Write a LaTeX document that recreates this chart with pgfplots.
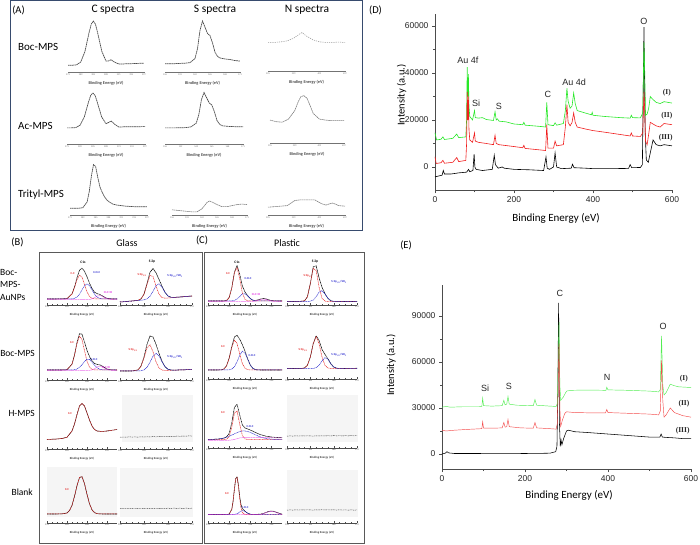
\documentclass[border=0pt]{standalone}
\usepackage{fontspec}
\setmainfont{Carlito}
\newfontfamily\arialf{Liberation Sans}
\newfontfamily\serifb{Liberation Serif}
\usepackage{pgfplots}
\pgfplotsset{compat=1.18}

\definecolor{xg}{RGB}{40,232,40}
\definecolor{xr}{RGB}{240,30,30}
\definecolor{fitred}{RGB}{228,40,40}
\definecolor{fitblue}{RGB}{40,40,205}
\definecolor{fitmag}{RGB}{225,40,225}
\definecolor{boxA}{RGB}{55,75,110}

\newcommand\tl{\bfseries\fontsize{3}{3.5}\selectfont}
\newcommand\ct{\bfseries\fontsize{3.6}{4}\selectfont}

\pgfplotsset{
  apanel/.style={scale only axis, anchor=south west, height=52pt, ymin=0, ymax=1,
    axis y line=none, axis x line*=bottom,
    axis line style={-, black!55, line width=0.5pt},
    tick align=outside, major tick length=1.4pt, minor tick length=0.8pt,
    tick style={black!55, line width=0.3pt},
    /pgf/number format/assume math mode=true,
    xticklabel style={font=\fontsize{2.4}{3}\selectfont, text=black!55, inner sep=0.5pt},
    xlabel={Binding Energy (eV)},
    xlabel style={font=\bfseries\fontsize{4.3}{5}\selectfont, text=black!70,
      at={(axis description cs:0.5,0)}, anchor=center, yshift=-11pt},
    clip=false},
  bpanel/.style={scale only axis, anchor=south west, height=50pt, ymin=0, ymax=1,
    axis y line=none, axis x line*=bottom,
    axis line style={-, black!70, line width=0.5pt},
    tick align=inside, major tick length=2pt, minor tick length=1.1pt,
    minor x tick num=3,
    tick style={black!70, line width=0.3pt},
    /pgf/number format/assume math mode=true,
    xticklabel style={font=\fontsize{2.4}{3}\selectfont, text=black!70, inner sep=0.6pt},
    xlabel={Binding Energy (eV)},
    xlabel style={font=\bfseries\fontsize{3}{3.5}\selectfont, text=black!75,
      at={(axis description cs:0.5,0)}, anchor=center, yshift=-9.5pt},
    clip=false},
  cpan/.style={bpanel, xmin=278, xmax=292, xtick={278,282,286,290}},
  span/.style={bpanel, xmin=158, xmax=170, xtick={158,162,166,170}},
  acurve/.style={no marks, black!70, line width=0.7pt, dash pattern=on 1.6pt off 0.5pt},
  kfit/.style={no marks, black, line width=0.55pt, dash pattern=on 1.1pt off 0.45pt},
  rfit/.style={no marks, fitred, line width=0.5pt, dash pattern=on 1pt off 0.6pt},
  bfit/.style={no marks, fitblue, line width=0.5pt, dash pattern=on 1pt off 0.6pt},
  mfit/.style={no marks, fitmag, line width=0.5pt, dash pattern=on 0.5pt off 0.6pt},
  flat/.style={no marks, black!75, line width=0.45pt, dash pattern=on 1pt off 0.7pt},
  survey/.style={scale only axis, anchor=south west, xmin=0, xmax=600,
    axis lines*=left, axis line style={black!70, line width=0.8pt},
    xtick={0,200,400,600}, minor x tick num=1, minor y tick num=1,
    tick align=outside, major tick length=3pt, minor tick length=1.8pt,
    tick style={black!70, line width=0.6pt},
    scaled y ticks=false,
    /pgf/number format/.cd, assume math mode=true, 1000 sep={}, fixed, /pgfplots/.cd,
    ticklabel style={font=\arialf\fontsize{8.5}{9}\selectfont, text=black!85},
    clip=false},
}

\begin{document}
\begin{tikzpicture}
\useasboundingbox (0pt,0pt) rectangle (700pt,545pt);

% ---------- frames and light backgrounds ----------
\draw[boxA, line width=1pt] (10pt,544pt) rectangle (362pt,314pt);
\draw[black!65, line width=0.9pt] (39pt,293pt) rectangle (202pt,1.5pt);
\draw[black!65, line width=0.9pt] (204pt,293pt) rectangle (364pt,2pt);
\fill[black!4] (122pt,150pt) rectangle (193pt,103pt);
\fill[black!4] (47pt,78pt) rectangle (117pt,28pt);
\fill[black!4] (120pt,77pt) rectangle (193pt,28pt);
\fill[black!4] (287pt,150pt) rectangle (358pt,103pt);
\fill[black!4] (287pt,75pt) rectangle (358pt,28pt);

% ---------- panel titles ----------
\node[font=\fontsize{10.5}{12}\selectfont] at (18.5pt,535pt) {(A)};
\node[font=\fontsize{11.5}{13}\selectfont] at (113pt,535pt) {C spectra};
\node[font=\fontsize{11.5}{13}\selectfont] at (215pt,535pt) {S spectra};
\node[font=\fontsize{11.5}{13}\selectfont] at (307pt,535pt) {N spectra};
\node[font=\fontsize{11}{13}\selectfont, anchor=west, inner sep=0pt] at (18pt,498pt) {Boc-MPS};
\node[font=\fontsize{11}{13}\selectfont, anchor=west, inner sep=0pt] at (18pt,419pt) {Ac-MPS};
\node[font=\fontsize{11}{13}\selectfont, anchor=west, inner sep=0pt] at (18pt,350pt) {Trityl-MPS};

\node[font=\fontsize{10.5}{12}\selectfont] at (17.5pt,303pt) {(B)};
\node[font=\fontsize{10}{12}\selectfont] at (127pt,302pt) {Glass};
\node[font=\fontsize{10.5}{12}\selectfont] at (202pt,305pt) {(C)};
\node[font=\fontsize{10}{12}\selectfont] at (287pt,302pt) {Plastic};
\node[font=\fontsize{10.5}{12}\selectfont] at (375.5pt,535pt) {(D)};
\node[font=\fontsize{10.5}{12}\selectfont] at (406pt,300pt) {(E)};

\node[font=\fontsize{9.5}{11}\selectfont, anchor=west, inner sep=0pt] at (0pt,273pt) {Boc-};
\node[font=\fontsize{9.5}{11}\selectfont, anchor=west, inner sep=0pt] at (0pt,261pt) {MPS-};
\node[font=\fontsize{9.5}{11}\selectfont, anchor=west, inner sep=0pt] at (0pt,248pt) {AuNPs};
\node[font=\fontsize{9.5}{11}\selectfont, anchor=east, inner sep=0pt] at (35pt,192pt) {Boc-MPS};
\node[font=\fontsize{9.5}{11}\selectfont, anchor=east, inner sep=0pt] at (35pt,132pt) {H-MPS};
\node[font=\fontsize{9.5}{11}\selectfont, anchor=east, inner sep=0pt] at (33pt,53pt) {Blank};

\node[font=\ct] at (83pt,283pt) {C1s};
\node[font=\ct] at (152pt,283pt) {S 2p};
\node[font=\ct] at (237pt,283pt) {C1s};
\node[font=\ct] at (315pt,283pt) {S 2p};

% ---------- fit labels ----------
\begin{scope}[every node/.style={font=\tl, inner sep=0pt}]
\node[fitred] at (72.7pt,271pt) {C-C};
\node[fitblue] at (96.7pt,272pt) {C-O-C};
\node[fitmag] at (108pt,252pt) {O-C=O};
\node[fitred] at (142pt,270pt) {S 2p\textsubscript{3/2}};
\node[fitblue] at (175pt,269pt) {S 2p\textsubscript{1/2}/SO\textsubscript{3}};
\node[fitred] at (228pt,271pt) {C-C};
\node[fitblue] at (248pt,266pt) {C-O-C};
\node[fitmag] at (256pt,250pt) {O-C=O};
\node[fitred] at (308pt,269pt) {S 2p\textsubscript{3/2}};
\node[fitblue] at (339pt,263pt) {S 2p\textsubscript{1/2}/SO\textsubscript{3}};
\node[fitred] at (72pt,202pt) {C-C};
\node[fitblue] at (94pt,185pt) {C-O-C};
\node[fitmag] at (106pt,177pt) {O-C=O};
\node[fitred] at (133pt,195pt) {S 2p\textsubscript{3/2}};
\node[fitblue] at (175pt,188pt) {S 2p\textsubscript{1/2}/SO\textsubscript{3}};
\node[fitred] at (223pt,198pt) {C-C};
\node[fitblue] at (252pt,189pt) {C-O-C};
\node[fitred] at (303pt,195pt) {S 2p\textsubscript{3/2}};
\node[fitblue] at (339pt,190pt) {S 2p\textsubscript{1/2}/SO\textsubscript{3}};
\node[fitred] at (70pt,131pt) {C-C};
\node[fitred] at (223pt,132pt) {C-C};
\node[fitblue] at (250pt,118pt) {C-O-C};
\node[fitred] at (67pt,55pt) {C-C};
\node[fitred] at (227pt,51pt) {C-C};
\node[fitblue] at (245pt,37pt) {C-O-C};
\end{scope}

% ================= (A) high-resolution spectra =================
% Boc-MPS
\begin{axis}[apanel, at={(68pt,473pt)}, width=76pt, xmin=279, xmax=297, xtick={279,282,...,297}]
\addplot[acurve] coordinates {(279,.13)(280,.13)(281,.137)(282,.19)(283,.39)(284,.76)(284.5,.92)(285,.98)(285.5,.92)(286,.76)(287,.40)(288,.21)(288.5,.21)(289.2,.235)(290,.19)(291,.155)(292,.155)(294,.16)(297,.17)};
\end{axis}
\begin{axis}[apanel, at={(165pt,473pt)}, width=75pt, xmin=156, xmax=171, xtick={156,159,...,171}]
\addplot[acurve] coordinates {(156,.16)(158,.16)(160,.17)(161,.18)(162,.26)(162.5,.45)(163,.80)(163.5,.98)(164,.86)(164.5,.74)(165,.70)(165.5,.56)(166,.38)(166.5,.30)(167,.27)(168,.25)(169,.24)(170,.22)(171,.21)};
\end{axis}
\begin{axis}[apanel, at={(268pt,474pt)}, width=77pt, xmin=395, xmax=407, xtick={395,399,403,407}]
\addplot[acurve, black!40, line width=0.55pt, dash pattern=on 1.2pt off 1pt] coordinates {(395,.55)(396,.55)(397,.56)(398,.58)(399,.63)(399.8,.70)(400.3,.74)(401,.67)(402,.60)(403,.56)(404,.55)(405,.55)(406,.555)(407,.55)};
\end{axis}
% Ac-MPS
\begin{axis}[apanel, at={(67pt,401pt)}, width=78pt, xmin=279, xmax=297, xtick={279,282,...,297}]
\addplot[acurve] coordinates {(279,.31)(280,.31)(281,.315)(282,.36)(283,.52)(284,.82)(284.5,.94)(285,.98)(285.5,.93)(286,.80)(287,.52)(288,.39)(288.5,.41)(289.2,.44)(290,.38)(291,.325)(292,.33)(294,.33)(297,.335)};
\end{axis}
\begin{axis}[apanel, at={(165pt,401pt)}, width=78pt, xmin=156, xmax=171, xtick={156,159,...,171}]
\addplot[acurve] coordinates {(156,.31)(158,.31)(160,.315)(161,.33)(162,.40)(162.5,.56)(163,.85)(163.5,.99)(164,.89)(164.5,.79)(165,.75)(165.5,.62)(166,.45)(166.5,.38)(167,.35)(168,.34)(169,.335)(170,.33)(171,.33)};
\end{axis}
\begin{axis}[apanel, at={(270pt,402pt)}, width=74pt, xmin=395, xmax=407, xtick={395,399,403,407}]
\addplot[acurve, black!50, line width=0.6pt] coordinates {(395,.44)(396,.41)(397,.40)(398,.46)(399,.62)(399.6,.80)(400,.89)(400.5,.91)(401,.86)(401.5,.72)(402,.57)(403,.46)(404,.44)(405,.43)(406,.43)(407,.43)};
\end{axis}
% Trityl-MPS
\begin{axis}[apanel, at={(70pt,330pt)}, width=77pt, xmin=279, xmax=297, xtick={279,282,...,297}]
\addplot[acurve] coordinates {(279,.13)(281,.13)(282,.14)(283,.25)(283.5,.45)(284,.75)(284.5,.97)(285,.93)(285.5,.72)(286,.54)(286.5,.44)(287,.36)(287.5,.30)(288,.26)(289,.21)(290,.19)(292,.17)(294,.16)(297,.16)};
\end{axis}
\begin{axis}[apanel, at={(172pt,330pt)}, width=75pt, xmin=156, xmax=171, xtick={156,159,...,171}]
\addplot[acurve, black!50, line width=0.6pt] coordinates {(156,.10)(157,.09)(158,.08)(159,.07)(160,.06)(161,.06)(162,.12)(163,.24)(163.5,.27)(164,.25)(165,.20)(166,.16)(167,.16)(168,.18)(169,.20)(170,.21)(171,.20)};
\end{axis}
\begin{axis}[apanel, at={(268pt,330pt)}, width=77pt, xmin=395, xmax=407, xtick={395,399,403,407}]
\addplot[acurve, black!50, line width=0.6pt] coordinates {(395,.15)(396,.16)(397,.17)(398,.18)(399.2,.28)(400,.29)(401,.29)(402.3,.29)(403.3,.22)(404,.19)(405,.23)(405.5,.21)(406,.18)(407,.17)};
\end{axis}

% ================= (B) glass =================
% Boc-MPS-AuNPs
\begin{axis}[cpan, at={(47pt,240pt)}, width=70pt]
\addplot[kfit] coordinates {(278,.12)(280,.12)(282,.127)(283,.222)(283.5,.36)(284,.545)(284.5,.694)(285,.737)(285.5,.676)(286,.563)(286.5,.437)(287,.33)(287.5,.257)(288,.227)(288.5,.213)(289,.189)(289.5,.157)(290,.134)(291,.12)(292,.12)};
\addplot[rfit] coordinates {(278,.12)(281,.12)(282,.127)(283,.219)(283.5,.347)(284,.504)(284.5,.597)(285,.555)(285.5,.411)(286,.263)(286.5,.172)(287,.134)(287.5,.123)(288,.12)(292,.12)};
\addplot[bfit] coordinates {(278,.12)(282,.12)(283,.123)(283.5,.133)(284,.161)(284.5,.217)(285,.302)(285.5,.385)(286,.42)(286.5,.385)(287,.302)(287.5,.217)(288,.161)(288.5,.133)(289,.123)(290,.12)(292,.12)};
\addplot[mfit] coordinates {(278,.11)(286.5,.11)(287,.124)(287.5,.147)(288,.176)(288.5,.19)(289,.176)(289.5,.147)(290,.124)(290.5,.114)(291,.11)(292,.11)};
\end{axis}
\begin{axis}[span, at={(120pt,240pt)}, width=72pt]
\addplot[kfit] coordinates {(158,.06)(159,.07)(160,.08)(161,.094)(161.5,.121)(162,.218)(162.5,.426)(163,.655)(163.5,.73)(164,.645)(164.5,.513)(165,.375)(165.5,.254)(166,.181)(166.5,.155)(167,.152)(168,.16)(169,.17)(170,.18)};
\addplot[rfit] coordinates {(158,.06)(160,.08)(161,.094)(161.5,.121)(162,.215)(162.5,.408)(163,.59)(163.5,.571)(164,.38)(164.5,.215)(165,.148)(165.5,.137)(166,.14)(167,.15)(168,.16)(170,.18)};
\addplot[bfit] coordinates {(158,.06)(161,.09)(161.5,.095)(162,.103)(162.5,.123)(163,.175)(163.5,.274)(164,.385)(164.5,.423)(165,.357)(165.5,.252)(166,.181)(166.5,.155)(167,.152)(168,.16)(170,.18)};
\end{axis}
% Boc-MPS
\begin{axis}[cpan, at={(47pt,165pt)}, width=70pt]
\addplot[kfit] coordinates {(278,.2)(280,.2)(281,.2)(282,.206)(283,.317)(283.5,.50)(284,.75)(284.5,.927)(285,.916)(285.5,.76)(286,.591)(286.5,.469)(287,.385)(287.5,.332)(288,.312)(288.5,.305)(289,.283)(289.5,.249)(290,.219)(291,.201)(292,.2)};
\addplot[rfit] coordinates {(278,.2)(281,.2)(282,.206)(283,.316)(283.5,.494)(284,.73)(284.5,.875)(285,.809)(285.5,.588)(286,.375)(286.5,.256)(287,.213)(287.5,.202)(288,.2)(292,.2)};
\addplot[bfit] coordinates {(278,.2)(282,.2)(283,.201)(283.5,.206)(284,.22)(284.5,.252)(285,.307)(285.5,.372)(286,.416)(286.5,.41)(287,.36)(287.5,.295)(288,.244)(288.5,.216)(289,.204)(289.5,.201)(290,.2)(292,.2)};
\addplot[mfit] coordinates {(278,.19)(286,.19)(286.5,.193)(287,.202)(287.5,.225)(288,.258)(288.5,.279)(289,.269)(289.5,.238)(290,.209)(291,.191)(292,.19)};
\end{axis}
\begin{axis}[span, at={(120pt,165pt)}, width=72pt]
\addplot[kfit] coordinates {(158,.18)(160,.18)(161,.202)(161.5,.278)(162,.46)(162.5,.714)(163,.88)(163.5,.861)(164,.715)(164.5,.534)(165,.375)(165.5,.266)(166,.215)(166.5,.2)(167,.198)(168,.201)(169,.206)(170,.21)};
\addplot[rfit] coordinates {(158,.18)(160,.18)(161,.201)(161.5,.273)(162,.438)(162.5,.64)(163,.705)(163.5,.567)(164,.365)(164.5,.24)(165,.2)(165.5,.192)(166,.193)(167,.197)(168,.201)(170,.21)};
\addplot[bfit] coordinates {(158,.18)(161,.181)(161.5,.185)(162,.202)(162.5,.254)(163,.355)(163.5,.476)(164,.534)(164.5,.48)(165,.364)(165.5,.265)(166,.215)(166.5,.2)(167,.198)(168,.201)(170,.21)};
\end{axis}
% H-MPS
\begin{axis}[cpan, at={(47pt,96pt)}, width=70pt]
\addplot[kfit] coordinates {(278,.19)(279,.195)(280,.20)(281,.21)(282,.235)(283,.36)(283.5,.50)(284,.69)(284.5,.86)(285,.91)(285.5,.86)(286,.72)(286.5,.58)(287,.46)(287.5,.39)(288,.36)(289,.35)(290,.36)(291,.375)(292,.39)};
\addplot[rfit] coordinates {(278,.19)(279,.195)(280,.20)(281,.21)(282,.235)(283,.36)(283.5,.50)(284,.69)(284.5,.86)(285,.91)(285.5,.86)(286,.72)(286.5,.58)(287,.46)(287.5,.39)(288,.36)(289,.35)(290,.36)(291,.375)(292,.39)};
\end{axis}
\begin{axis}[span, at={(120pt,96pt)}, width=72pt]
\addplot[flat] coordinates {(158,.235)(158.5,.24)(159,.237)(159.5,.242)(160,.239)(160.5,.241)(161,.238)(161.5,.243)(162,.24)(162.5,.245)(163,.242)(163.5,.247)(164,.244)(164.5,.249)(165,.246)(165.5,.251)(166,.248)(166.5,.254)(167,.251)(167.5,.257)(168,.254)(168.5,.259)(169,.256)(169.5,.262)(170,.259)};
\end{axis}
% Blank
\begin{axis}[cpan, at={(47pt,22pt)}, width=70pt]
\addplot[kfit] coordinates {(278,.18)(280,.18)(281,.182)(282,.20)(282.5,.25)(283,.354)(283.5,.533)(284,.748)(284.5,.91)(285,.926)(285.5,.788)(286,.575)(286.5,.384)(287,.264)(287.5,.208)(288,.187)(289,.18)(290,.18)(292,.18)};
\addplot[rfit] coordinates {(278,.18)(280,.18)(281,.182)(282,.20)(282.5,.25)(283,.354)(283.5,.533)(284,.748)(284.5,.91)(285,.926)(285.5,.788)(286,.575)(286.5,.384)(287,.264)(287.5,.208)(288,.187)(289,.18)(290,.18)(292,.18)};
\end{axis}
\begin{axis}[span, at={(120pt,22pt)}, width=72pt]
\addplot[flat] coordinates {(158,.29)(158.5,.286)(159,.291)(159.5,.288)(160,.293)(160.5,.289)(161,.294)(161.5,.29)(162,.292)(162.5,.288)(163,.293)(163.5,.29)(164,.295)(164.5,.291)(165,.294)(165.5,.29)(166,.296)(166.5,.292)(167,.297)(167.5,.293)(168,.296)(168.5,.292)(169,.297)(169.5,.293)(170,.296)};
\end{axis}

% ================= (C) plastic =================
% Boc-MPS-AuNPs
\begin{axis}[cpan, at={(208pt,240pt)}, width=74pt]
\addplot[kfit] coordinates {(278,.08)(280,.08)(281,.08)(281.5,.089)(282,.147)(282.5,.343)(283,.655)(283.5,.792)(284,.615)(284.5,.382)(285,.258)(285.5,.185)(286,.129)(286.5,.096)(287,.092)(287.5,.103)(288,.121)(288.5,.13)(289,.121)(289.5,.103)(290,.089)(290.5,.082)(291,.08)(292,.08)};
\addplot[rfit] coordinates {(278,.08)(281,.08)(281.5,.089)(282,.147)(282.5,.341)(283,.643)(283.5,.752)(284,.524)(284.5,.242)(285,.113)(285.5,.083)(286,.08)(292,.08)};
\addplot[bfit] coordinates {(278,.08)(282,.08)(282.5,.082)(283,.092)(283.5,.12)(284,.171)(284.5,.22)(285,.225)(285.5,.182)(286,.129)(286.5,.096)(287,.083)(287.5,.08)(292,.08)};
\addplot[mfit] coordinates {(278,.07)(286.5,.07)(287,.079)(287.5,.093)(288,.111)(288.5,.12)(289,.111)(289.5,.093)(290,.079)(290.5,.072)(291,.07)(292,.07)};
\end{axis}
\begin{axis}[span, at={(287pt,240pt)}, width=70pt]
\addplot[kfit] coordinates {(158,.07)(160,.07)(161,.082)(161.5,.164)(162,.431)(162.5,.763)(163,.784)(163.5,.544)(164,.354)(164.5,.229)(165,.134)(165.5,.086)(166,.072)(167,.07)(170,.07)};
\addplot[rfit] coordinates {(158,.07)(160,.07)(161,.082)(161.5,.164)(162,.425)(162.5,.733)(163,.688)(163.5,.357)(164,.136)(164.5,.077)(165,.07)(170,.07)};
\addplot[bfit] coordinates {(158,.07)(161.5,.07)(162,.076)(162.5,.1)(163,.166)(163.5,.257)(164,.288)(164.5,.222)(165,.134)(165.5,.086)(166,.072)(167,.07)(170,.07)};
\end{axis}
% Boc-MPS
\begin{axis}[cpan, at={(208pt,166pt)}, width=74pt]
\addplot[kfit] coordinates {(278,.18)(280,.18)(280.5,.183)(281,.199)(281.5,.261)(282,.417)(282.5,.651)(283,.84)(283.5,.874)(284,.795)(284.5,.687)(285,.556)(285.5,.404)(286,.279)(286.5,.211)(287,.187)(287.5,.181)(288,.18)(290,.18)(292,.18)};
\addplot[rfit] coordinates {(278,.18)(280,.18)(280.5,.183)(281,.199)(281.5,.261)(282,.413)(282.5,.633)(283,.775)(283.5,.709)(284,.499)(284.5,.31)(285,.216)(285.5,.187)(286,.181)(286.5,.18)(292,.18)};
\addplot[bfit] coordinates {(278,.18)(282,.184)(282.5,.198)(283,.245)(283.5,.345)(284,.476)(284.5,.557)(285,.52)(285.5,.397)(286,.278)(286.5,.211)(287,.187)(287.5,.181)(288,.18)(292,.18)};
\end{axis}
\begin{axis}[span, at={(287pt,166pt)}, width=70pt]
\addplot[kfit] coordinates {(158,.21)(160,.21)(160.5,.211)(161,.221)(161.5,.274)(162,.441)(162.5,.708)(163,.866)(163.5,.77)(164,.593)(164.5,.492)(165,.408)(165.5,.307)(166,.24)(166.5,.216)(167,.211)(168,.21)(170,.215)};
\addplot[rfit] coordinates {(158,.21)(160.5,.211)(161,.221)(161.5,.274)(162,.441)(162.5,.706)(163,.85)(163.5,.706)(164,.441)(164.5,.274)(165,.221)(165.5,.211)(166,.21)(170,.21)};
\addplot[bfit] coordinates {(158,.21)(162.5,.212)(163,.226)(163.5,.274)(164,.362)(164.5,.428)(165,.397)(165.5,.306)(166,.24)(166.5,.216)(167,.211)(168,.21)(170,.21)};
\end{axis}
% H-MPS
\begin{axis}[cpan, at={(208pt,97pt)}, width=74pt]
\addplot[kfit] coordinates {(278,.171)(279,.173)(280,.18)(281,.198)(281.5,.221)(282,.291)(282.5,.505)(283,.812)(283.5,.875)(284,.66)(284.5,.46)(285,.40)(285.5,.38)(286,.36)(286.5,.335)(287,.31)(287.5,.285)(288,.265)(289,.235)(290,.22)(291,.21)(292,.205)};
\addplot[rfit] coordinates {(278,.17)(281,.17)(281.5,.177)(282,.227)(282.5,.417)(283,.699)(283.5,.737)(284,.474)(284.5,.251)(285,.181)(285.5,.171)(286,.17)(292,.17)};
\addplot[bfit] coordinates {(278,.171)(279,.173)(280,.18)(281,.198)(281.5,.214)(282,.234)(282.5,.258)(283,.283)(283.5,.308)(284,.327)(284.5,.34)(285,.34)(285.5,.33)(286,.312)(286.5,.288)(287,.263)(287.5,.238)(288,.217)(289,.189)(290,.176)(291,.171)(292,.17)};
\addplot[mfit] coordinates {(278,.15)(282,.155)(283,.17)(284,.2)(285,.215)(288,.21)(292,.2)};
\end{axis}
\begin{axis}[span, at={(287pt,97pt)}, width=70pt]
\addplot[flat] coordinates {(158,.236)(158.5,.242)(159,.238)(159.5,.243)(160,.239)(160.5,.244)(161,.24)(161.5,.245)(162,.241)(162.5,.238)(163,.243)(163.5,.24)(164,.245)(164.5,.241)(165,.246)(165.5,.242)(166,.247)(166.5,.243)(167,.246)(167.5,.242)(168,.247)(168.5,.243)(169,.248)(169.5,.244)(170,.247)};
\end{axis}
% Blank
\begin{axis}[cpan, at={(208pt,22pt)}, width=74pt]
\addplot[kfit] coordinates {(278,.17)(281,.17)(282,.176)(282.5,.273)(282.75,.438)(283,.684)(283.25,.889)(283.5,.926)(283.75,.761)(284,.531)(284.25,.365)(284.5,.287)(285,.235)(285.5,.196)(286,.175)(287,.171)(288,.179)(288.5,.193)(289,.212)(289.5,.232)(290,.24)(290.5,.232)(291,.212)(291.5,.193)(292,.179)};
\addplot[rfit] coordinates {(278,.17)(281,.17)(282,.176)(282.5,.273)(282.75,.438)(283,.682)(283.25,.889)(283.5,.911)(283.75,.732)(284,.482)(284.25,.298)(284.5,.208)(285,.171)(286,.17)(292,.17)};
\addplot[bfit] coordinates {(278,.17)(283,.172)(283.5,.185)(283.75,.199)(284,.219)(284.25,.237)(284.5,.249)(285,.234)(285.5,.196)(286,.175)(286.5,.17)(292,.17)};
\addplot[mfit] coordinates {(278,.165)(286,.165)(287,.166)(288,.174)(288.5,.188)(289,.207)(289.5,.227)(290,.235)(290.5,.227)(291,.207)(291.5,.188)(292,.174)};
\end{axis}
\begin{axis}[span, at={(287pt,22pt)}, width=70pt]
\addplot[flat] coordinates {(158,.256)(158.5,.262)(159,.258)(159.5,.263)(160,.259)(160.5,.264)(161,.26)(161.5,.265)(162,.261)(162.5,.258)(163,.264)(163.5,.26)(164,.266)(164.5,.261)(165,.265)(165.5,.26)(166,.264)(166.5,.259)(167,.263)(167.5,.259)(168,.262)(168.5,.258)(169,.262)(169.5,.258)(170,.261)};
\end{axis}

% ================= (D) survey spectra =================
\begin{axis}[survey, at={(435pt,354.5pt)}, width=237pt, height=176.25pt,
  ymin=-10000, ymax=65000, ytick={0,20000,40000,60000}]
\addplot[no marks, black, line width=0.6pt] coordinates {(0,-4200)(10,-3800)(18,-3500)(21,-1500)(24,-3000)(40,-3000)(60,-2500)(80,-2200)(85,-1000)(88,-2000)(96,-1500)(99,5500)(101,0)(104,-1000)(120,-1500)(145,-1000)(150,5000)(153,1000)(160,-500)(170,0)(175,-500)(200,-1000)(240,-1200)(275,-1500)(281,4300)(284,-500)(290,-1000)(300,0)(304,6000)(308,0)(320,-700)(345,-500)(348,1200)(352,-300)(380,-500)(400,-700)(450,-700)(490,-600)(494,1000)(498,-300)(520,-200)(525,1000)(529,59500)(532,15000)(535,3000)(540,2000)(545,6000)(552,11500)(560,9500)(570,9000)(580,9500)(600,9000)};
\addplot[no marks, xg, line width=0.6pt] coordinates {(0,14500)(4,11500)(15,11800)(20,12800)(24,11700)(45,12200)(55,14000)(60,12500)(78,12800)(80,20000)(81.5,42500)(83,30000)(84.5,39500)(86,26000)(88,21500)(95,20000)(100,24000)(102,21000)(110,20800)(120,21000)(130,20200)(148,19800)(152,23500)(155,20000)(158,20500)(162,19500)(180,19200)(200,18300)(222,18000)(225,19000)(228,17800)(250,17500)(270,17200)(280,17000)(283,27500)(286,18000)(300,17600)(304,18800)(308,17800)(325,18500)(330,24000)(334,33500)(337,28000)(342,25000)(347,26000)(351,31500)(355,27000)(360,24000)(380,23000)(396,22200)(398,23200)(400,22000)(430,21500)(470,21000)(494,20800)(497,22000)(500,21000)(520,20900)(526,23000)(529,53000)(531,40000)(533,22000)(537,22500)(541,25000)(545,30000)(550,29000)(560,27500)(570,27000)(580,27800)(600,27200)};
\addplot[no marks, xr, line width=0.6pt] coordinates {(0,4300)(3,1500)(15,1800)(20,2800)(24,1600)(45,2000)(55,4000)(60,2300)(78,2800)(80,10000)(81.5,32000)(83,20000)(84.5,30000)(86,16000)(88,11500)(95,10500)(100,14500)(102,11000)(110,10500)(130,10000)(148,9500)(152,13500)(155,10000)(162,9500)(200,8700)(222,8200)(225,9200)(228,7900)(270,7200)(280,7000)(283,18000)(286,8000)(300,8000)(304,11000)(308,9000)(325,9500)(330,17000)(334,26500)(337,19000)(342,17500)(347,19000)(351,23000)(355,19000)(360,17000)(380,16200)(400,15500)(430,14800)(470,13800)(494,13200)(497,14500)(500,13200)(520,13000)(526,14500)(529,32000)(531,24000)(533,11000)(537,9500)(541,14000)(545,19000)(550,18500)(560,17500)(570,17000)(580,18500)(600,18000)};
\begin{scope}[every node/.style={font=\arialf\fontsize{9}{10}\selectfont, text=black!85}]
\node at (axis cs:83,45500) {Au 4f};
\node at (axis cs:104,27000) {Si};
\node at (axis cs:162,25600) {S};
\node at (axis cs:286,31000) {C};
\node at (axis cs:352,36000) {Au 4d};
\node at (axis cs:529,62000) {O};
\end{scope}
\begin{scope}[every node/.style={font=\serifb\bfseries\fontsize{7.5}{8}\selectfont, text=black!85}]
\node at (axis cs:587,31500) {(I)};
\node at (axis cs:587,22000) {(II)};
\node at (axis cs:584,12300) {(III)};
\end{scope}
\end{axis}
\node[font=\fontsize{11}{13}\selectfont] at (556pt,327pt) {Binding Energy (eV)};
\node[font=\fontsize{10.5}{12}\selectfont, rotate=90] at (401.5pt,450pt) {Intensity (a.u.)};

% ================= (E) survey spectra =================
\begin{axis}[survey, at={(442pt,75.7pt)}, width=249pt, height=184pt,
  ymin=-10000, ymax=110000, ytick={0,30000,60000,90000}]
\addplot[no marks, black, line width=0.55pt] coordinates {(0,0)(8,500)(12,1500)(16,700)(30,300)(80,300)(150,400)(200,300)(260,500)(274,1500)(277,5000)(279,40000)(281,98500)(283,20000)(285,5000)(287,9000)(289,6000)(293,10000)(300,15000)(305,15500)(320,14500)(350,14000)(400,13000)(450,12000)(500,11000)(525,11000)(528,13000)(531,11000)(540,10800)(560,10500)(580,10000)(600,10000)};
\addplot[no marks, xg!80, line width=0.45pt] coordinates {(0,30500)(10,31000)(20,30500)(50,30800)(90,30800)(96,31000)(98,36500)(100,31500)(120,31200)(145,31500)(149,35000)(152,32000)(156,32500)(159,37500)(162,32500)(180,31800)(220,31500)(224,35500)(228,31800)(260,31200)(275,31000)(278,33000)(280,60000)(282,86000)(284,45000)(286,35000)(292,37000)(300,41000)(310,41500)(350,41700)(395,41500)(397,43500)(400,41800)(450,41500)(500,41000)(522,40500)(526,42000)(529,77000)(532,45000)(535,38500)(540,40000)(550,45500)(560,44500)(570,43800)(590,43500)(600,43200)};
\addplot[no marks, xr!80, line width=0.45pt] coordinates {(0,15500)(10,15000)(30,15500)(60,16000)(96,16500)(98,21000)(100,16800)(120,16800)(145,17000)(149,20500)(152,17500)(156,17800)(159,22500)(162,17800)(190,17000)(220,16800)(224,20500)(228,17000)(260,16500)(275,16200)(278,20000)(280,45000)(282,72000)(284,30000)(286,18000)(290,22000)(296,26500)(300,27500)(320,27000)(360,26800)(394,26800)(397,29000)(400,27000)(450,26500)(500,26000)(522,25500)(526,28000)(529,61000)(532,35000)(535,24000)(540,25500)(550,30000)(560,27000)(580,25000)(600,24000)};
\begin{scope}[every node/.style={font=\arialf\fontsize{9}{10}\selectfont, text=black!85}]
\node at (axis cs:284,105000) {C};
\node at (axis cs:533,83500) {O};
\node at (axis cs:104,43000) {Si};
\node at (axis cs:161,44000) {S};
\node at (axis cs:398,50000) {N};
\end{scope}
\begin{scope}[every node/.style={font=\serifb\bfseries\fontsize{7.5}{8}\selectfont, text=black!85}]
\node at (axis cs:583,49000) {(I)};
\node at (axis cs:583,33000) {(II)};
\node at (axis cs:580,15000) {(III)};
\end{scope}
\end{axis}
\node[font=\fontsize{11}{13}\selectfont] at (569pt,50pt) {Binding Energy (eV)};
\node[font=\fontsize{10.5}{12}\selectfont, rotate=90] at (391pt,180pt) {Intensity (a.u.)};

\end{tikzpicture}
\end{document}
